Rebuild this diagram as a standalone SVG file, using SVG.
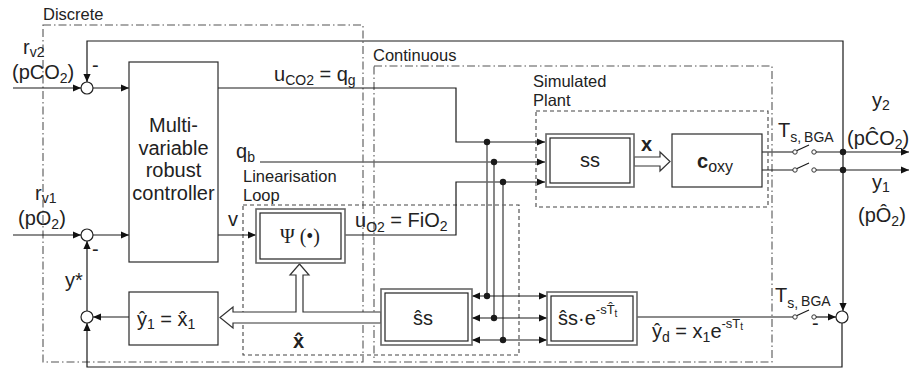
<svg xmlns="http://www.w3.org/2000/svg" width="910" height="369" viewBox="0 0 910 369">
<style>
.t{font-family:"Liberation Sans",Arial,sans-serif;font-size:20px;fill:#222}
.s{font-size:16.5px}
.ln{stroke:#1a1a1a;stroke-width:1.2;fill:none}
.gl{stroke:#6a6a6a;stroke-width:1.6;fill:none}
.box{fill:#fff;stroke:#2a2a2a;stroke-width:1.2}
.dbo{fill:#fff;stroke:#666;stroke-width:1.6}
.dbi{fill:none;stroke:#222;stroke-width:1.2}
.dd{fill:none;stroke:#555;stroke-width:1.1;stroke-dasharray:8 3 1.5 3}
.da{fill:none;stroke:#444;stroke-width:1.1;stroke-dasharray:4 3}
.sum{fill:#fff;stroke:#222;stroke-width:1.2}
.dot{fill:#1a1a1a}
.term{fill:#fff;stroke:#333;stroke-width:1}
.hol{fill:#fff;stroke:#333;stroke-width:1.2}
</style>
<defs>
<marker id="ah" viewBox="0 0 10 10" refX="10" refY="5" markerWidth="9" markerHeight="8" markerUnits="userSpaceOnUse" orient="auto-start-reverse">
<path d="M0,0.5 L10,5 L0,9.5 z" fill="#111"/>
</marker>
</defs>

<g id="regions">
<rect class="dd" x="43" y="25" width="320" height="337"/>
<rect class="dd" x="374" y="66" width="398" height="296"/>
<rect class="da" x="536" y="111" width="232" height="96"/>
<rect class="da" x="243" y="205" width="276" height="150"/>
<text class="t s" x="43" y="20">Discrete</text>
<text class="t s" x="373" y="61">Continuous</text>
<text class="t s" x="533" y="87">Simulated</text>
<text class="t s" x="533" y="106">Plant</text>
<text class="t s" x="243" y="182">Linearisation</text>
<text class="t s" x="243" y="201">Loop</text>
</g>

<g id="connectors">
<path class="ln" d="M13,88 H81" marker-end="url(#ah)"/>
<path class="ln" d="M93,88 H129" marker-end="url(#ah)"/>
<path class="ln" d="M13,235 H81" marker-end="url(#ah)"/>
<path class="ln" d="M93,235 H129" marker-end="url(#ah)"/>
<path class="ln" d="M843,160 V41 H87 V82" marker-end="url(#ah)"/>
<path class="ln" d="M843,160 V311" marker-end="url(#ah)"/>
<path class="ln" d="M842,323 V367 H87 V323" marker-end="url(#ah)"/>
<path class="ln" d="M87,311 V241" marker-end="url(#ah)"/>
<path class="ln" d="M129,317 H93" marker-end="url(#ah)"/>
<path class="ln" d="M218,88 H456 V142 H545" marker-end="url(#ah)"/>
<path class="gl" d="M260,162 H545" marker-end="url(#ah)"/>
<path class="ln" d="M218,235 H256" marker-end="url(#ah)"/>
<path class="ln" d="M345,235 H456 V182 H545" marker-end="url(#ah)"/>
<path class="gl" d="M487,142 V296 M494,162 V318 M503,182 V340"/>
<circle class="dot" cx="487" cy="142" r="3.2"/>
<circle class="dot" cx="494" cy="162" r="3.2"/>
<circle class="dot" cx="503" cy="182" r="3.2"/>
<path class="ln" d="M472,296 H547" marker-start="url(#ah)" marker-end="url(#ah)"/>
<path class="ln" d="M472,318 H547" marker-start="url(#ah)" marker-end="url(#ah)"/>
<path class="ln" d="M472,340 H547" marker-start="url(#ah)" marker-end="url(#ah)"/>
<circle class="dot" cx="487" cy="296" r="3.2"/>
<circle class="dot" cx="494" cy="318" r="3.2"/>
<circle class="dot" cx="503" cy="340" r="3.2"/>
<path class="hol" d="M381,312 H303 V275 H309 L299.5,264 L290,275 H296 V312 H233 V307 L220,317.5 L233,328 V323 H381 Z"/>
<path class="hol" d="M634,157 H660 V152 L670,161.5 L660,171 V166 H634 Z"/>
<path class="gl" d="M762,152 H793"/>
<path class="ln" d="M760,170 H793"/>
<path class="ln" d="M637,317 H793"/>
<path class="ln" d="M796,151 L809,145 M796,169 L809,163 M796,316 L809,310"/>
<circle class="term" cx="795" cy="152" r="2.2"/>
<circle class="term" cx="814" cy="152" r="2.2"/>
<circle class="term" cx="795" cy="170" r="2.2"/>
<circle class="term" cx="814" cy="170" r="2.2"/>
<circle class="term" cx="795" cy="317" r="2.2"/>
<circle class="term" cx="814" cy="317" r="2.2"/>
<path class="ln" d="M816,152 H909" marker-end="url(#ah)"/>
<path class="ln" d="M816,170 H909" marker-end="url(#ah)"/>
<path class="ln" d="M816,317 H836" marker-end="url(#ah)"/>
<circle class="dot" cx="843" cy="152" r="3.2"/>
<circle class="dot" cx="843" cy="170" r="3.2"/>
</g>

<g id="sum-co2"><circle class="sum" cx="87" cy="88" r="6"/><text class="t" x="92" y="72">-</text></g>
<g id="sum-o2"><circle class="sum" cx="87" cy="235" r="6"/><text class="t" x="92" y="256">-</text></g>
<g id="sum-ystar"><circle class="sum" cx="87" cy="317" r="6"/></g>
<g id="sum-bga"><circle class="sum" cx="842" cy="317" r="6"/><text class="t" x="812" y="330">-</text></g>

<g id="controller">
<rect class="box" x="129" y="62" width="89" height="200"/>
<text class="t" text-anchor="middle" x="173.5" y="132">Multi-</text>
<text class="t" text-anchor="middle" x="173.5" y="154.5">variable</text>
<text class="t" text-anchor="middle" x="173.5" y="177">robust</text>
<text class="t" text-anchor="middle" x="173.5" y="199.5">controller</text>
</g>

<g id="yhat-box">
<rect class="box" x="129" y="292" width="89" height="53"/>
<text class="t" x="137" y="326">ŷ<tspan font-size="14" dy="3">1</tspan><tspan dy="-3"> =  x̂</tspan><tspan font-size="14" dy="3">1</tspan></text>
</g>

<g id="psi">
<rect class="dbo" x="256" y="209" width="89" height="54"/>
<rect class="dbi" x="260" y="213" width="81" height="46"/>
<text x="300" y="243" text-anchor="middle" font-family="'Liberation Serif','Times New Roman',serif" font-size="20" fill="#222">Ψ (•)</text>
</g>

<g id="ss-hat">
<rect class="dbo" x="381" y="289" width="91" height="56"/>
<rect class="dbi" x="385" y="293" width="83" height="48"/>
<text class="t" x="423" y="325" text-anchor="middle">ŝs</text>
</g>

<g id="ss-delay">
<rect class="dbo" x="547" y="292" width="90" height="53"/>
<rect class="dbi" x="551" y="296" width="82" height="45"/>
<text class="t" x="558" y="325" font-size="19">ŝs·e<tspan font-size="13" dy="-11">-sT̂</tspan><tspan font-size="10" dy="3">t</tspan></text>
</g>

<g id="ss">
<rect class="dbo" x="546" y="134" width="88" height="53"/>
<rect class="dbi" x="550" y="138" width="80" height="45"/>
<text class="t" x="590" y="167" text-anchor="middle" font-size="19">ss</text>
</g>

<g id="coxy">
<rect class="box" x="672" y="134" width="90" height="53"/>
<text class="t" x="697" y="168" font-size="23" font-weight="bold">c<tspan font-weight="normal" font-size="16" dy="4">oxy</tspan></text>
</g>

<g id="labels">
<text class="t" x="23" y="54">r<tspan font-size="14" dy="3">v2</tspan></text>
<text class="t" x="12" y="79">(pCO<tspan font-size="14" dy="4">2</tspan><tspan dy="-4">)</tspan></text>
<text class="t" x="35" y="200">r<tspan font-size="14" dy="3">v1</tspan></text>
<text class="t" x="18" y="225">(pO<tspan font-size="14" dy="4">2</tspan><tspan dy="-4">)</tspan></text>
<text class="t" x="65" y="287">y*</text>
<text class="t" x="274" y="81">u<tspan font-size="14" dy="4">CO2</tspan><tspan dy="-4"> = q</tspan><tspan font-size="14" dy="4">g</tspan></text>
<text class="t" x="236" y="158">q<tspan font-size="14" dy="4">b</tspan></text>
<text class="t" x="228" y="226">v</text>
<text class="t" x="355" y="227">u<tspan font-size="14" dy="5">O2</tspan><tspan dy="-5"> = FiO</tspan><tspan font-size="14" dy="4">2</tspan></text>
<text class="t" x="293" y="348" font-size="18" font-weight="bold">x̂</text>
<text class="t" x="641" y="151" font-size="19" font-weight="bold">x</text>
<text class="t" x="778" y="137">T<tspan font-size="14" dy="5">s,</tspan><tspan font-size="14" dx="3">BGA</tspan></text>
<text class="t" x="775" y="302">T<tspan font-size="14" dy="6">s,</tspan><tspan font-size="14" dx="3" dy="-2">BGA</tspan></text>
<text class="t" x="872" y="107">y<tspan font-size="14" dy="3">2</tspan></text>
<text class="t" x="847" y="145">(pĈO<tspan font-size="14" dy="4">2</tspan><tspan dy="-4">)</tspan></text>
<text class="t" x="872" y="189">y<tspan font-size="14" dy="3">1</tspan></text>
<text class="t" x="858" y="222">(pÔ<tspan font-size="14" dy="4">2</tspan><tspan dy="-4">)</tspan></text>
<text class="t" x="652" y="338">ŷ<tspan font-size="14" dy="4">d</tspan><tspan dy="-4"> = x</tspan><tspan font-size="14" dy="4">1</tspan><tspan dy="-4">e</tspan><tspan font-size="13" dy="-10">-sT</tspan><tspan font-size="10" dy="2">t</tspan></text>
</g>
</svg>
